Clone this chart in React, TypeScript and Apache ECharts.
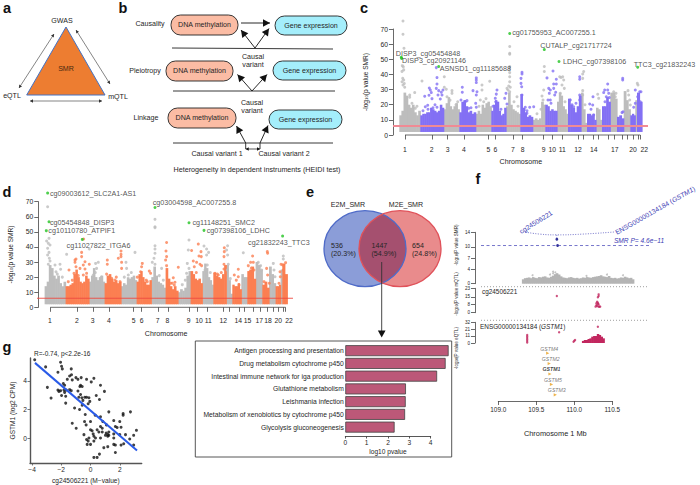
import React, { useEffect, useRef } from "react";
import * as echarts from "echarts";

const FONT = "Liberation Sans";
const INK = "#262626";
const GREY = "#bdbdbd";
const PURPLE = "#8370f4";
const ORANGE = "#fb7f52";
const GREEN = "#22c322";
const CRIMSON = "#c2275f";
const NAVY = "#3c3cb4";

// ---------- Manhattan plots (c, d) ----------
const chrEdges = [6.3, 27.3, 50.7, 66.3, 82.7, 98.3, 113, 127.3, 139.7, 152.3, 164, 175, 188, 194, 203, 209, 217.3, 224, 230.7, 237.3, 242.3, 244, 249];
const chrTicks = [12, 39, 54.7, 71, 95.3, 102.7, 120, 129.7, 150.7, 159.3, 169.3, 185, 190.7, 200.7, 205.7, 215, 221.7, 229.3, 234.7, 240, 245, 247.3];
const cChrLabelTexts = ["1", "2", "3", "4", "5", "6", "7", "8", "9", "10", "11", "12", "14", "17", "20", "22"];
const cChrLabelPos = [12, 38.7, 54.7, 71, 95.3, 102.3, 120, 129.7, 150.7, 159.3, 169.3, 185, 200.7, 221.7, 240, 251.3];
const dChrLabelTexts = ["1", "2", "3", "4", "5", "6", "7", "8", "9", "10", "11", "12", "14", "15", "17", "18", "20", "22"];
const dChrLabelPos = [11.7, 38.7, 54.3, 70.7, 95.3, 103.3, 119.3, 129, 150.3, 160.7, 170, 185, 200, 209.3, 221, 229.7, 240, 250.7];

const cTops = [
  [13, 16, 28, 26, 20, 18, 20, 15, 13, 16],
  [13, 14, 14, 15, 15, 18, 17, 16, 15, 16, 20, 18],
  [17, 21, 25, 19, 17, 19, 21, 17],
  [15, 22, 23, 19, 15, 16, 14, 15],
  [14, 16, 14, 20, 18, 21, 22, 19],
  [16, 20, 23, 22, 16, 13, 14, 18],
  [19, 28, 20, 17, 16, 15, 14],
  [27, 18, 15, 12, 13, 12],
  [10, 11, 10, 11, 22, 20],
  [20, 19, 16, 17, 16, 16],
  [22, 28, 26, 19, 17, 14],
  [24, 20, 18, 15, 19, 26],
  [28, 17, 8],
  [14, 14, 13, 14, 10],
  [18, 17, 10],
  [19, 19, 25, 22],
  [28, 28, 24],
  [12, 13, 11],
  [29, 23, 17],
  [13, 14, 13],
  [23],
  [28, 22],
];
const dTops = [
  [14, 17, 28, 26, 21, 19, 21, 16, 14, 17],
  [14, 14, 15, 16, 22, 25, 20, 17, 16, 17, 21, 19],
  [17, 21, 26, 20, 18, 20, 21, 17],
  [16, 21, 22, 19, 17, 18, 16, 17],
  [14, 16, 15, 20, 19, 20, 21, 18],
  [17, 22, 24, 20, 17, 15, 15, 18],
  [20, 27, 21, 17, 16, 15, 13],
  [26, 19, 14, 12, 14, 11],
  [10, 12, 11, 13, 21, 24],
  [24, 22, 19, 18, 19, 16],
  [24, 29, 26, 20, 18, 15],
  [23, 21, 20, 19, 22, 28],
  [28, 18, 9],
  [15, 14, 14, 16, 12],
  [22, 20, 20],
  [24, 25, 27, 19],
  [30, 28, 25],
  [15, 17, 13],
  [27, 22, 16],
  [14, 14, 15],
  [25],
  [29, 22],
];

const cGreyPoints = [
  [10, 75.3], [10, 66.5], [11, 57.3], [9.3, 45.8], [10.3, 45], [10.7, 43], [9, 42], [9.7, 37.4], [10.7, 36.3], [9, 35.2], [11.3, 34], [10, 33], [11.7, 31.5],
  [16.7, 26.4], [16.7, 24.9], [21.7, 28], [13.3, 23], [22.3, 17.6], [29, 35.7],
  [51.3, 38.5], [51.3, 31.5], [53.3, 30.2], [59, 29.3], [59, 27.5], [54, 25.3], [64.7, 22],
  [96.7, 35.5], [89, 33], [89, 29.7], [90.7, 22], [87.3, 23.1],
  [116.7, 58.4], [116.7, 54], [116.7, 53.3], [116.7, 45.2], [116.7, 44], [116.7, 41.2], [116.7, 38.5], [116.7, 35.2], [115.7, 32.4], [117.3, 31.5], [114, 30.8], [115, 29.7], [116.7, 28.6], [124, 25.3],
  [151.3, 45.2], [151.3, 41.9], [150.7, 29.7], [149, 25.8], [150, 23.1],
  [166.7, 38.5], [168, 38], [169.7, 38.5], [170.7, 36.3], [169, 33], [171.3, 30.8], [167.3, 27.5],
  [190.7, 41.9], [189.7, 40.3], [189.7, 37.4], [189.7, 29.3], [189.7, 26.4],
  [204.7, 26.9], [205.7, 24.2],
  [220.7, 28.6], [223, 27.5], [222.3, 25.3],
  [235, 29.3], [235.7, 26.4], [236.7, 23.1], [237.3, 19.8],
  [244.3, 34.1], [245, 33],
  [19, 21], [24, 19], [57, 23], [63, 20], [86, 19], [93, 24], [121, 22], [125, 19], [144, 14], [148, 17], [172, 22], [192, 20],
];
const cPurplePoints = [
  [43.3, 44.5],
  [31.7, 25.6], [36.3, 31], [37.3, 29.7], [38.3, 28], [36, 26.2], [39, 24], [32.3, 18.7], [34.7, 19.6], [44, 37.9], [44, 33.7], [43.3, 30.8], [45.7, 29.3], [48.3, 28.2], [50, 29.7], [45, 26.4], [47.3, 23.8], [49, 26.4], [44, 18.3],
  [69.3, 31.5], [69.3, 28.2], [68, 23.1], [72.3, 22], [74, 22.7], [75.7, 17.6], [80, 29.3], [83.3, 37.7], [83.3, 36.3], [83.3, 34.6], [84, 28.6], [83.3, 26.4], [82.7, 20.9], [83.3, 18.3],
  [104, 29.7], [103.3, 27], [102.3, 24.2], [102.7, 22], [111.7, 24.2], [113, 27.5], [114, 20.5],
  [129, 41.4], [129, 40.3], [128, 37.4], [128, 34.1], [128.7, 31.9], [129, 26.4], [132.3, 18.3], [136.7, 18.3], [140.7, 18.7], [134, 14.3], [131.3, 16.5],
  [154, 37.7], [160, 42.3], [155.7, 30.8], [156.3, 27.5], [155, 23.1], [157.3, 29.7], [160.7, 30.8], [160.7, 33.7], [163.3, 33.7], [163.3, 36.8], [162.7, 28.2], [161.7, 26.4], [157.3, 23.1],
  [186.7, 38.5], [186.7, 36.8], [180.7, 18.7], [177.3, 23.1], [186.7, 26.4], [186.7, 23.1],
  [200, 25.3], [196.7, 20.5], [199.7, 19.8], [200.7, 13.2],
  [214.7, 33.7], [211.7, 29.7], [210.7, 28], [214.7, 29.7], [215.7, 27.5], [213.3, 25.3], [216.3, 24.7],
  [229.7, 37.4], [229.7, 36.3], [229, 14.8], [230, 15.4],
  [242.3, 29.7], [246.7, 28.6], [248, 28.6], [242.3, 20.9], [240.7, 18.3], [244.7, 25.3], [247.3, 22],
  [30, 16], [35, 17], [40, 18], [42, 20], [78, 18], [100, 19], [108, 17], [134, 16], [158, 21], [179, 20], [183, 21], [198, 17], [212, 22],
];
const cHitPoints = [[8.3, 51.3], [8.6, 50.6], [45.7, 45.2], [116.7, 67], [151.3, 56.4], [166, 48.5], [244.7, 44.7]];
const cHitNames = ["DISP3_cg05454848", "DISP3_cg20921146", "ASNSD1_cg11185688", "cg01755953_AC007255.1", "CUTALP_cg21717724", "LDHC_cg07398106", "TTC3_cg21832243"];
const cHitOffsets = [[-4, -2.7], [2, 4], [2.5, 3.6], [4, 0.5], [-2.5, -2.8], [5.5, 1.8], [-2.5, -1.8]];

const dGreyPoints = [
  [9.3, 66.7], [10.7, 45.7], [8.3, 43.9], [10, 42.4], [11.7, 41.3], [9.3, 39.1], [10.7, 36.4], [9.3, 34.7], [11, 32.5], [11.7, 30.7], [10, 28.5],
  [16.7, 28], [21.7, 28.5], [22.3, 25.2], [17.7, 23.6], [28.3, 35.1],
  [51, 38.6], [57.3, 29.1], [60, 29.8], [58.3, 25.8], [55, 21.4],
  [96.7, 36.4], [87.7, 29.8], [88.3, 25.8], [90, 21.4],
  [116.7, 58.3], [116.7, 53.4], [116.7, 52.8], [116.7, 40.8], [116.7, 38.6], [116.7, 35.8], [115.7, 32.5], [114, 29.8], [116.7, 28.5], [123.3, 25.8],
  [150.7, 44.6], [150, 38], [149, 29.1], [150.7, 25.8], [148.3, 22.5],
  [165.7, 40.6], [168.3, 38.6], [170.3, 36.4], [168.3, 34.7], [169, 28], [166.7, 24.7],
  [189.3, 40.8], [188.3, 38], [189.3, 34.7], [190, 28.5], [189, 24.7],
  [205, 36.2], [220, 29.8], [222.3, 27.6], [223.3, 24.7],
  [235, 29.1], [235.7, 24.7], [236.7, 20.3], [245, 34], [245, 32],
  [19, 22], [24, 20], [57, 23], [63, 20], [86, 20], [93, 23], [121, 21], [125, 18], [144, 15], [147, 18], [172, 23], [192, 19],
];
const dOrangePoints = [
  [45.3, 45.3],
  [30.7, 24.7], [36.7, 31.3], [37.7, 32], [36.7, 29.8], [41.7, 25.8], [37.7, 26.9], [43.3, 36.4], [43.3, 33.6], [45, 28], [46.7, 30.2], [48.3, 22.5], [51, 28.5], [46.7, 25.4], [45, 21.4], [35.7, 22.5],
  [69, 31.3], [69, 28.5], [68.3, 22], [80, 32.5], [82.7, 37.3], [82.7, 35.1], [82.7, 33.6], [83.3, 29.8], [83.3, 25.8], [73.3, 19.2], [76.7, 18.1], [81.7, 17],
  [104, 29.1], [103.3, 26.9], [102.3, 23.6], [101.7, 20.3], [111, 24], [112.3, 22.5], [109, 17],
  [128.3, 43], [127.7, 37.3], [128.3, 33.6], [127.3, 31.3], [128.3, 27.6], [135, 19.6], [132.3, 15.9], [136.7, 16.6], [140, 26.5], [136, 14.8],
  [153.3, 37.7], [160, 41.9], [155, 30.7], [156, 26.9], [158.3, 29.8], [160.7, 34], [162.7, 36.9], [163, 33.6], [161.7, 28.5], [163.3, 27.6],
  [186, 39.5], [186, 36.9], [185.7, 33.6], [185.7, 28.5], [185.7, 25.4], [176.7, 22.5], [180, 21.4],
  [200, 25.2], [196, 21.4], [200, 20.3], [200.7, 14.8],
  [214.3, 34], [210, 27.6], [212.3, 29.8], [215, 29.8], [215.7, 24.7], [211.7, 23.6],
  [229, 36.9], [229.3, 35.8], [228.3, 25.8], [229.3, 21.4], [225.7, 17], [231, 15.9],
  [242.7, 28.5], [241.7, 23.6], [247.3, 29.6], [244.3, 28], [242, 20.3], [240.7, 15.9], [245, 24.7],
  [30, 17], [34, 18], [40, 21], [78, 20], [99, 20], [108, 18], [134, 16], [158, 23], [179, 22], [183, 23], [198, 18], [213, 26],
];
const dHitPoints = [[9.3, 75.7], [116.7, 66.2], [10.7, 56.7], [8, 50.8], [150.7, 56], [165.7, 51], [44, 45], [244.3, 47.2]];
const dHitNames = ["cg09003612_SLC2A1-AS1", "cg03004598_AC007255.8", "cg05454848_DISP3", "cg10110780_ATPIF1", "cg11148251_SMC2", "cg07398106_LDHC", "cg11027822_ITGA6", "cg21832243_TTC3"];
const dHitOffsets = [[3.8, 2], [-0.8, -3.2], [2.5, 1.8], [3.5, 1.5], [5, 1.2], [4.2, 1.2], [-14.2, 7.2], [-33, 7.8]];

// ---------- Scatter (g) ----------
const gPoints = [
  [-3.82, 5.48], [-3.07, 4.98], [-2.05, 5.3], [-1.98, 5.02], [-1.93, 4.84], [-2.23, 4.61], [-1.32, 4.84], [-2.95, 3.55], [-2.7, 2.8], [-2.23, 3.36],
  [-2.05, 3.32], [-2.16, 3.27], [-1.82, 3.36], [-1.66, 3.36], [-1.43, 3.39], [-1.32, 3.32], [-1.77, 3.2], [-1.98, 2.98], [-1.7, 2.93], [-1.86, 3.82],
  [-1.77, 3.7], [-1.59, 4.11], [-1.43, 4.34], [-1.3, 4.43], [-1.25, 4.07], [-1, 4.23], [-0.86, 4.11], [-0.64, 4.23], [-0.68, 3.7], [-0.73, 3.61],
  [-0.57, 3.61], [-0.86, 3.3], [-0.68, 3.05], [-0.8, 2.86], [-0.59, 2.82], [-0.39, 2.86], [-0.27, 2.86], [-0.52, 2.64], [-0.11, 2.82], [-0.27, 4.11],
  [0.05, 3.93], [0.23, 4.18], [0.68, 3.7], [0.95, 3.27], [0.39, 2.98], [0.61, 2.7], [-0.05, 2.57], [-0.16, 2.41], [-0.57, 2.3], [-0.75, 2],
  [-1.09, 2.11], [-1.7, 2.45], [-1.25, 1.05], [-0.98, 0.7], [-0.36, 1.66], [-0.41, 1.16], [-0.3, 0.93], [0, 1.16], [0.32, 1.61], [0.68, 1.5],
  [0.84, 1.16], [1.09, 0.93], [1.25, 1.84], [1.59, 1.23], [1.7, 0.82], [2.23, 1.73], [2.23, 1.61], [2.73, 1.84], [2, 1.16], [1.82, 0.75],
  [2.09, 0.77], [2.39, 0.25], [2, 0.25], [1.59, 0.3], [1.59, 0.02], [1.07, 0.36], [1.18, 0.25], [1.25, 0.2], [1.25, 0.43], [1.02, 0.2],
  [1.18, 0.14], [0.8, 0.43], [0.57, 0.43], [0.68, 0.02], [0.34, 0.02], [0.11, 0.52], [0, 0.59], [0.45, 0.59], [0.18, 0.3], [0.23, 0.14],
  [-0.11, 0.02], [-0.27, -0.09], [-0.16, -0.2], [-0.23, -0.43], [0.23, -0.2], [0, -0.43], [0.91, -0.66], [1.18, -0.59], [1.59, -0.43], [1.7, -0.48],
  [1.7, -1], [2.09, -0.48], [2.27, -0.39], [2.68, -0.05], [2.95, 0.2], [3.14, 0.55], [2.95, -0.48], [0.23, -1.34], [0.45, -1.34], [0.61, -1.11],
  [-0.45, 0.25], [0.68, 0.82], [0.8, 0.7],
];
const gFit = [[-3.8, 5.26], [3.18, -0.85]];

// ---------- Pathway bars ----------
const pathways = [
  "Antigen processing and presentation",
  "Drug metabolism cytochrome p450",
  "Intestinal immune network for iga production",
  "Glutathione metabolism",
  "Leishmania infection",
  "Metabolism of xenobiotics by cytochrome p450",
  "Glycolysis gluconeogenesis",
];
const pathwayValues = [4.84, 4.7, 4.3, 2.84, 2.83, 2.8, 2.31];

// ---------- Locus plot (f) ----------
const smrPoints = [[109.77, 12.1], [109.78, 10.4]];
const smrThreshold = [[108.772, 10.4], [110.983, 10.4]];
const smrCurve = [[109.325, 14.17], [109.55, 13.5], [109.77, 13.3], [110.1, 13.5], [110.535, 14.1]];
const smrStem = [[109.77, 13.3], [109.77, 12.1]];
const smrCloudStart = 109.31;
const smrCloudStep = 0.0263;
const smrCloudTops = [1.2, 1.5, 1.6, 1.7, 1.5, 1.8, 1.6, 1.5, 1.8, 1.7, 1.9, 2, 1.7, 1.6, 1.9, 2.2, 2.6, 2.8, 2.5, 2, 1.7, 1.6, 1.5, 1.7, 1.8, 1.6, 1.5, 1.6, 1.4, 1.5, 1.7, 1.6, 1.8, 1.7, 1.6, 1.8, 1.9, 2, 2.1, 2.3, 2, 1.9, 1.8, 2.1, 1.6, 1.5, 1.6, 1.4, 1.5, 1.7, 1.6, 1.9, 1.7, 1.5, 1.6, 1.2];
const smrCloudPeaks = [[109.72, 3.27], [109.75, 3.1], [109.72, 2.8], [109.77, 2.6], [109.68, 2.5], [109.8, 2], [110.43, 2.5], [110.64, 2.3], [110.16, 2.1], [109.45, 2.3]];
const mqtlPoints = [[109.77, 15.8], [110.32, 17.3], [110.32, 15.8], [110.31, 14.5], [110.3, 10.4], [110.29, 8.9], [110.31, 9.4], [110.32, 7.9], [110.29, 7], [110.3, 6.3], [110.33, 5.7], [110.34, 5.7], [110.32, 5.7], [110.28, 5.7], [110.31, 8.3]];
const eqtlPoints = [[110.31, 25.2], [109.8, 16.5], [109.38, 12.4], [109.38, 10], [109.38, 7.7], [109.38, 5.4], [109.38, 3.1], [109.38, 0.8], [110.01, 4.6], [109.99, 2], [110, 3.3]];
const eqtlClusterStart = 110.1;
const eqtlClusterStep = 0.0245;
const eqtlClusterTops = [3.2, 4.6, 4.6, 6.2, 7.2, 9.8, 10.8, 10.8, 13.9, 12.4, 9.8, 7.2];
const genes = ["GSTM4", "GSTM2", "GSTM1", "GSTM5", "GSTM3"];
const geneStarts = [109.65, 109.67, 109.68, 109.7, 109.75];

// ---------- helpers ----------
type Col = [number, number, number];

function chromColumns(tops: number[][], coloured: boolean): Col[] {
  const out: Col[] = [];
  tops.forEach((row, i) => {
    if ((i % 2 === 1) !== coloured) return;
    const w = (chrEdges[i + 1] - chrEdges[i]) / row.length;
    row.forEach((v, j) => out.push([chrEdges[i] + j * w, chrEdges[i] + (j + 1) * w, v]));
  });
  return out;
}

function stepColumns(start: number, step: number, tops: number[]): Col[] {
  return tops.map((v, j) => [start + j * step, start + (j + 1) * step, v] as Col);
}

function columnSeries(grid: number, data: Col[], color: string, base: number) {
  return {
    type: "custom",
    coordinateSystem: "cartesian2d",
    xAxisIndex: grid,
    yAxisIndex: grid,
    silent: true,
    encode: { x: [0, 1], y: 2 },
    data,
    renderItem: (_p: any, api: any) => {
      const a = api.coord([api.value(0), api.value(2)]);
      const b = api.coord([api.value(1), base]);
      return {
        type: "rect",
        shape: { x: a[0], y: a[1], width: b[0] - a[0] + 0.6, height: b[1] - a[1] },
        style: { fill: color },
        silent: true,
      };
    },
  };
}

function dots(grid: number, data: number[][], color: string, size = 3, symbol = "circle") {
  return { type: "scatter", xAxisIndex: grid, yAxisIndex: grid, data, symbol, symbolSize: size, clip: false, silent: true, itemStyle: { color } };
}

function rule(grid: number, data: number[][], color: string, width: number, extra: any = {}) {
  const { smooth, ...ls } = extra;
  return {
    type: "line",
    xAxisIndex: grid,
    yAxisIndex: grid,
    data,
    symbol: "none",
    clip: false,
    silent: true,
    smooth: !!smooth,
    lineStyle: { color, width, ...ls },
  };
}

function hits(grid: number, pts: number[][], names: string[], offs: number[][]) {
  return {
    type: "scatter",
    xAxisIndex: grid,
    yAxisIndex: grid,
    clip: false,
    silent: true,
    symbolSize: 3,
    itemStyle: { color: GREEN },
    data: pts.map((p, i) => ({
      value: p,
      label: {
        show: true,
        formatter: names[i],
        position: offs[i],
        align: "left",
        verticalAlign: "middle",
        fontFamily: FONT,
        fontSize: 7.2,
        color: INK,
      },
    })),
  };
}

function manhattanAxes(grid: number, labelPos: number[], labelTexts: string[], labelMargin: number, nameGap: number) {
  return {
    x: {
      gridIndex: grid,
      type: "value",
      min: 0,
      max: 255.7,
      splitLine: { show: false },
      axisLine: { show: false },
      axisTick: { show: true, length: 4.5, customValues: chrTicks, lineStyle: { color: "#444", width: 0.8 } },
      axisLabel: {
        customValues: labelPos,
        margin: labelMargin,
        fontFamily: FONT,
        fontSize: 6.8,
        color: INK,
        formatter: (v: number) => {
          let best = 0;
          labelPos.forEach((p, i) => {
            if (Math.abs(p - v) < Math.abs(labelPos[best] - v)) best = i;
          });
          return labelTexts[best];
        },
      },
      name: "Chromosome",
      nameLocation: "middle",
      nameGap,
      nameTextStyle: { fontFamily: FONT, fontSize: 7.1, color: INK },
    },
    y: {
      gridIndex: grid,
      type: "value",
      min: 0,
      max: 70,
      interval: 10,
      splitLine: { show: false },
      axisLine: { show: true, onZero: false, lineStyle: { color: "#444", width: 0.8 } },
      axisTick: { show: true, length: 4, lineStyle: { color: "#444", width: 0.8 } },
      axisLabel: { margin: 5, fontFamily: FONT, fontSize: 6.8, color: INK },
      name: "-log{s|10}(p value SMR)",
      nameLocation: "middle",
      nameGap: 24.5,
      nameTextStyle: { fontFamily: FONT, fontSize: 6.6, color: INK, rich: { s: { fontFamily: FONT, fontSize: 4.4, color: INK, verticalAlign: "bottom" } } },
    },
  };
}

function trackAxes(grid: number, max: number, ticks: number[]) {
  return {
    x: { gridIndex: grid, type: "value", min: 108.693, max: 110.996, show: false },
    y: {
      gridIndex: grid,
      type: "value",
      min: 0,
      max,
      splitLine: { show: false },
      axisLine: { show: true, onZero: false, lineStyle: { color: "#444", width: 0.8 } },
      axisTick: { show: true, length: 4, customValues: ticks, lineStyle: { color: "#444", width: 0.8 } },
      axisLabel: { customValues: ticks, margin: 5, fontFamily: FONT, fontSize: 4.6, color: INK },
    },
  };
}

// graphic helpers
function t(text: string, x: number, y: number, o: any = {}) {
  const { rotation, ...style } = o;
  return {
    type: "text",
    x,
    y,
    rotation: rotation || 0,
    silent: true,
    style: { text, fontFamily: FONT, fontSize: 7.1, fill: INK, align: "center", verticalAlign: "middle", ...style },
  };
}

function seg(x1: number, y1: number, x2: number, y2: number, stroke = "#222", lineWidth = 0.9, lineDash?: number[]) {
  return { type: "line", silent: true, shape: { x1, y1, x2, y2 }, style: { stroke, lineWidth, lineDash } };
}

function head(x1: number, y1: number, x2: number, y2: number, size: number, fill: string) {
  const a = Math.atan2(y2 - y1, x2 - x1);
  const w = size * 0.55;
  const bx = x2 - size * Math.cos(a);
  const by = y2 - size * Math.sin(a);
  return {
    type: "polygon",
    silent: true,
    shape: {
      points: [
        [x2, y2],
        [bx - w * Math.sin(a), by + w * Math.cos(a)],
        [bx + w * Math.sin(a), by - w * Math.cos(a)],
      ],
    },
    style: { fill },
  };
}

function arrow(x1: number, y1: number, x2: number, y2: number, size = 4.5, both = false, stroke = "#111", lw = 0.9) {
  const parts: any[] = [seg(x1, y1, x2, y2, stroke, lw), head(x1, y1, x2, y2, size, stroke)];
  if (both) parts.push(head(x2, y2, x1, y1, size, stroke));
  return parts;
}

function pill(x0: number, y0: number, x1: number, y1: number, fill: string, text: string) {
  return [
    { type: "rect", silent: true, shape: { x: x0, y: y0, width: x1 - x0, height: y1 - y0, r: 9.5 }, style: { fill, stroke: "#222", lineWidth: 0.9 } },
    t(text, (x0 + x1) / 2, (y0 + y1) / 2),
  ];
}

const SALMON = "#fbbca4";
const CYAN = "#a4eefb";

echarts.graphic.registerShape(
  "vennLens",
  echarts.graphic.extendPath("M 382.5 214.3 A 41 38 0 0 1 382.5 283.1 A 41 38 0 0 1 382.5 214.3 Z", {}) as any
);

function buildGraphics() {
  const bold = { fontWeight: "bold", fontSize: 14.5, fill: "#111" };
  const g: any[] = [];
  // panel letters
  g.push(t("a", 7, 8, bold), t("b", 123, 8, bold), t("c", 364, 8, bold), t("d", 7, 192, bold), t("e", 310, 192, bold), t("f", 478, 179, bold), t("g", 7, 347, bold));

  // panel a
  g.push({ type: "polygon", silent: true, shape: { points: [[66, 27], [26.7, 95], [105, 95]] }, style: { fill: "#ed7d31", stroke: "#4472c4", lineWidth: 1 } });
  g.push(t("GWAS", 62, 21), t("eQTL", 12, 96), t("mQTL", 118, 97), t("SMR", 66, 69, { fill: "#4a2a10" }));
  g.push(...arrow(19, 88, 54, 34, 3, true, "#333", 0.6), ...arrow(76, 30, 110, 84, 3, true, "#333", 0.6), ...arrow(30, 101, 102, 101, 3, true, "#333", 0.6));

  // panel b
  g.push(...pill(171, 15, 238, 35, SALMON, "DNA methylation"), ...pill(275, 16, 347, 35, CYAN, "Gene expression"));
  g.push(...pill(166, 61, 233, 81, SALMON, "DNA methylation"), ...pill(273, 61, 346, 80, CYAN, "Gene expression"));
  g.push(...pill(168, 108, 236, 128, SALMON, "DNA methylation"), ...pill(269, 110, 342, 129, CYAN, "Gene expression"));
  g.push(t("Causality", 150, 23.5), t("Pleiotropy", 145, 70.5), t("Linkage", 146, 117.5));
  g.push(seg(172, 48, 333, 49), seg(173, 91, 335, 91), seg(173, 143, 333, 143));
  g.push(...arrow(241, 23, 270, 23, 7));
  g.push(...arrow(255, 48, 241, 30, 7), ...arrow(255, 48, 269, 28.5, 7));
  g.push(...arrow(252, 91, 237.5, 74.5, 7), ...arrow(252, 91, 267, 74.5, 7));
  g.push(...arrow(245.7, 143, 236.5, 126, 7), ...arrow(260, 143, 268, 125.5, 7));
  g.push(seg(245.7, 143, 245.7, 149), seg(260, 143, 260, 149));
  g.push(...arrow(245.7, 149, 260, 149, 3, true, "#111", 0.7));
  g.push(t("Causal", 253, 57), t("variant", 253, 65), t("Causal", 252, 103), t("variant", 252, 110.5));
  g.push(t("Causal variant 1", 217, 154), t("Causal variant 2", 284, 154));
  g.push(t("Heterogeneity in dependent instruments (HEIDI test)", 257, 169, { fontSize: 7.2 }));

  // panel e
  g.push({ type: "ellipse", silent: true, shape: { cx: 365, cy: 248.7, rx: 41, ry: 38 }, style: { fill: "#8b9dd8" } });
  g.push({ type: "ellipse", silent: true, shape: { cx: 400, cy: 248.7, rx: 41, ry: 38 }, style: { fill: "#e98b8c" } });
  g.push({ type: "vennLens", silent: true, style: { fill: "#a5506f" } });
  g.push({ type: "ellipse", silent: true, shape: { cx: 365, cy: 248.7, rx: 41, ry: 38 }, style: { fill: "none", stroke: "#4f6bc8", lineWidth: 1.3 } });
  g.push({ type: "ellipse", silent: true, shape: { cx: 400, cy: 248.7, rx: 41, ry: 38 }, style: { fill: "none", stroke: "#e0525a", lineWidth: 1.3 } });
  g.push(t("E2M_SMR", 348, 205), t("M2E_SMR", 406, 205));
  const vennLeft = { align: "left" };
  g.push(t("536", 331, 246, vennLeft), t("(20.3%)", 331, 253.5, vennLeft), t("1447", 371.5, 246, vennLeft), t("(54.9%)", 371.5, 253.5, vennLeft), t("654", 412, 246, vennLeft), t("(24.8%)", 412, 253.5, vennLeft));
  g.push(seg(381.7, 262, 381.7, 332, "#333", 0.9), head(381.7, 330, 381.7, 337.5, 7, "#111"));

  // pathway frame
  g.push({ type: "rect", silent: true, shape: { x: 195.3, y: 341, width: 256.4, height: 116 }, style: { fill: "none", stroke: "#444", lineWidth: 0.9 } });

  // panel f annotations
  const sub = { s: { fontFamily: FONT, fontSize: 3.2, fill: INK, verticalAlign: "bottom" } };
  g.push(t("-log{s|10}(P value SMR)", 456, 245, { rotation: Math.PI / 2, fontSize: 4.6, rich: sub }));
  g.push(t("-log{s|10}(P value mQTL)", 456, 294, { rotation: Math.PI / 2, fontSize: 4.6, rich: sub }));
  g.push(t("-log{s|10}(P value eQTL)", 456, 348, { rotation: Math.PI / 2, fontSize: 4.6, rich: sub }));
  g.push(seg(481, 286.7, 647, 286.7, "#777", 0.7, [1, 2]), seg(481, 320.3, 647, 320.3, "#777", 0.7, [1, 2]));
  g.push(t("cg24506221", 520, 232, { rotation: (32 * Math.PI) / 180, fill: NAVY, align: "left", fontSize: 6.8 }));
  g.push(t("ENSG00000134184 ({i|GSTM1})", 615.7, 232.7, { rotation: (29.6 * Math.PI) / 180, fill: NAVY, align: "left", fontSize: 6.8, rich: { i: { fontFamily: FONT, fontSize: 6.8, fontStyle: "italic", fill: NAVY } } }));
  g.push(t("SMR P= 4.6e\u221211", 639, 240, { fill: NAVY, fontStyle: "italic", fontSize: 6.6 }));
  g.push(t("cg24506221", 482, 291, { align: "left", fontSize: 6.4 }));
  g.push(t("ENSG00000134184 ({i|GSTM1})", 480, 326, { align: "left", fontSize: 6.4, rich: { i: { fontFamily: FONT, fontSize: 6.4, fontStyle: "italic", fill: INK } } }));

  // panel g annotation
  g.push(t("R=-0.74, p<2.2e-16", 34, 353, { align: "left", fontSize: 6.5 }));
  return g;
}

function buildOption() {
  const grids = [
    { left: 393, top: 29, width: 255.7, height: 106 },
    { left: 38.3, top: 201.7, width: 255.7, height: 105.6 },
    { left: 30, top: 358, width: 111.7, height: 107.7 },
    { left: 345.3, top: 344.3, width: 85.4, height: 89.2 },
    { left: 475, top: 232.3, width: 175, height: 51.4 },
    { left: 475, top: 288.3, width: 175, height: 24.4 },
    { left: 475, top: 322.3, width: 175, height: 20.7 },
    { left: 498.3, top: 348, width: 114, height: 52 },
  ];
  const cAx = manhattanAxes(0, cChrLabelPos, cChrLabelTexts, 10.5, 23.5);
  const dAx = manhattanAxes(1, dChrLabelPos, dChrLabelTexts, 10, 23);
  const smrAx = trackAxes(4, 14, [0, 4, 7, 10, 14]);
  const mqtlAx = trackAxes(5, 23, [0, 8, 15, 23]);
  const eqtlAx = trackAxes(6, 32, [0, 11, 21, 32]);
  const axisLine = { show: true, onZero: false, lineStyle: { color: "#555", width: 1.4 } };
  const axisLbl = { fontFamily: FONT, fontSize: 6.6, color: INK };

  const gX = {
    gridIndex: 2,
    type: "value",
    min: -4.14,
    max: 3.5,
    splitLine: { show: false },
    axisLine,
    axisTick: { show: true, length: 2.5, customValues: [-4, -2, 0, 2], lineStyle: { color: "#555", width: 0.8 } },
    axisLabel: { ...axisLbl, customValues: [-4, -2, 0, 2], margin: 3, formatter: (v: number) => String(v).replace("-", "\u2212") },
    name: "cg24506221 (M\u2212value)",
    nameLocation: "middle",
    nameGap: 14,
    nameTextStyle: { fontFamily: FONT, fontSize: 6.6, color: INK },
  };
  const gY = {
    gridIndex: 2,
    type: "value",
    min: -1.73,
    max: 5.6,
    splitLine: { show: false },
    axisLine,
    axisTick: { show: true, length: 2.5, customValues: [0, 2, 4], lineStyle: { color: "#555", width: 0.8 } },
    axisLabel: { ...axisLbl, customValues: [0, 2, 4], margin: 3 },
    name: "GSTM1 (log2 CPM)",
    nameLocation: "middle",
    nameGap: 14,
    nameTextStyle: { fontFamily: FONT, fontSize: 6.6, color: INK },
  };
  const barX = {
    gridIndex: 3,
    type: "value",
    min: 0,
    max: 4,
    interval: 1,
    offset: 2.5,
    splitLine: { show: false },
    axisLine: { show: true, lineStyle: { color: "#444", width: 0.9 } },
    axisTick: { show: true, length: 2.5, lineStyle: { color: "#444", width: 0.9 } },
    axisLabel: { ...axisLbl, margin: 2.5 },
    name: "log10 pvalue",
    nameLocation: "middle",
    nameGap: 11.5,
    nameTextStyle: { fontFamily: FONT, fontSize: 6.6, color: INK },
  };
  const barY = {
    gridIndex: 3,
    type: "category",
    inverse: true,
    data: pathways,
    axisLine: { show: false },
    axisTick: { show: false },
    axisLabel: { fontFamily: FONT, fontSize: 6.75, color: INK, margin: 1.5, interval: 0 },
  };
  const geneX = {
    gridIndex: 7,
    type: "value",
    min: 109,
    max: 110.5,
    interval: 0.5,
    offset: 1,
    splitLine: { show: false },
    axisLine: { show: true, lineStyle: { color: "#444", width: 0.8 } },
    axisTick: { show: true, length: 4, lineStyle: { color: "#444", width: 0.8 } },
    axisLabel: { fontFamily: FONT, fontSize: 6.4, color: INK, margin: 5, formatter: (v: number) => v.toFixed(1) },
    name: "Chromosome 1 Mb",
    nameLocation: "middle",
    nameGap: 28.5,
    nameTextStyle: { fontFamily: FONT, fontSize: 7.4, color: INK },
  };
  const geneY = { gridIndex: 7, type: "category", inverse: true, data: genes, show: false };

  const series: any[] = [
    // c
    columnSeries(0, chromColumns(cTops, false), GREY, 2),
    columnSeries(0, chromColumns(cTops, true), PURPLE, 2),
    dots(0, cGreyPoints, GREY),
    dots(0, cPurplePoints, PURPLE),
    rule(0, [[0, 6], [255, 6]], "#f08a94", 2),
    rule(0, [[chrTicks[0], 0], [chrTicks[chrTicks.length - 1], 0]], "#444", 0.8),
    hits(0, cHitPoints, cHitNames, cHitOffsets),
    // d
    columnSeries(1, chromColumns(dTops, false), GREY, 2),
    columnSeries(1, chromColumns(dTops, true), ORANGE, 2),
    dots(1, dGreyPoints, GREY),
    dots(1, dOrangePoints, ORANGE),
    rule(1, [[-5, 6], [254.7, 6]], "#ee4a40", 0.9),
    rule(1, [[chrTicks[0], 0], [chrTicks[chrTicks.length - 1], 0]], "#444", 0.8),
    hits(1, dHitPoints, dHitNames, dHitOffsets),
    // g
    dots(2, gPoints, "#111", 3),
    rule(2, gFit, "#2a5be8", 2),
    // pathways
    {
      type: "bar",
      xAxisIndex: 3,
      yAxisIndex: 3,
      data: pathwayValues,
      barWidth: 11,
      clip: false,
      silent: true,
      itemStyle: { color: "#bc5878", borderColor: "#444", borderWidth: 0.8 },
    },
    // f SMR track
    columnSeries(4, stepColumns(smrCloudStart, smrCloudStep, smrCloudTops), "#b4b4b4", 0),
    dots(4, smrCloudPeaks, "#b4b4b4", 2),
    rule(4, smrThreshold, NAVY, 0.7, { type: [3, 2.5] }),
    rule(4, smrCurve, NAVY, 0.7, { type: [1, 1.5], smooth: true }),
    rule(4, smrStem, NAVY, 0.7, { type: [1, 1.5] }),
    dots(4, smrPoints, "#00007f", 2.8),
    // f mQTL / eQTL tracks
    dots(5, mqtlPoints, CRIMSON, 2.4),
    columnSeries(6, stepColumns(eqtlClusterStart, eqtlClusterStep, eqtlClusterTops), CRIMSON, 0),
    dots(6, eqtlPoints, CRIMSON, 2.4),
    // f genes
    {
      type: "scatter",
      xAxisIndex: 7,
      yAxisIndex: 7,
      clip: false,
      silent: true,
      symbol: "triangle",
      symbolRotate: -90,
      symbolSize: 3.2,
      itemStyle: { color: "#e8a020" },
      data: genes.map((g, i) => ({
        value: [geneStarts[i], g],
        label: {
          show: true,
          formatter: g,
          position: "top",
          distance: 0.5,
          offset: [1.5, 0],
          fontFamily: FONT,
          fontSize: 5.2,
          fontStyle: "italic",
          fontWeight: g === "GSTM1" ? "bold" : "normal",
          color: g === "GSTM1" ? "#111" : "#555",
        },
      })),
    },
  ];

  return {
    animation: false,
    backgroundColor: "#ffffff",
    textStyle: { fontFamily: FONT },
    grid: grids,
    xAxis: [cAx.x, dAx.x, gX, barX, smrAx.x, mqtlAx.x, eqtlAx.x, geneX],
    yAxis: [cAx.y, dAx.y, gY, barY, smrAx.y, mqtlAx.y, eqtlAx.y, geneY],
    series,
    graphic: { elements: buildGraphics() },
  };
}

export default function App() {
  const ref = useRef<HTMLDivElement>(null);
  useEffect(() => {
    document.body.style.margin = "0";
    const chart = echarts.init(ref.current as HTMLDivElement, undefined, { renderer: "svg" });
    chart.setOption(buildOption() as any);
    return () => chart.dispose();
  }, []);
  return <div ref={ref} style={{ position: "fixed", left: 0, top: 0, width: 700, height: 485 }} />;
}
